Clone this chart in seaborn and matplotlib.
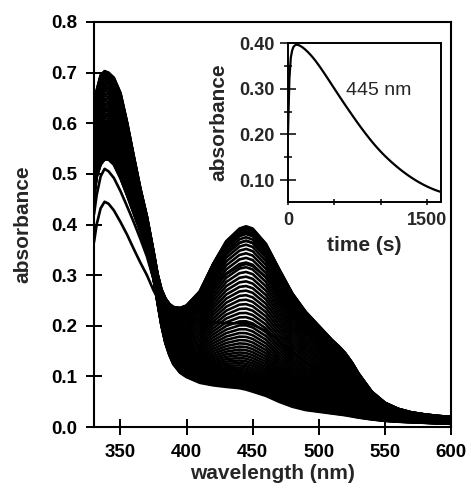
import numpy as np
import pandas as pd
import seaborn as sns
import matplotlib.pyplot as plt
from matplotlib.ticker import FormatStrFormatter, MultipleLocator

# wavelengths (nm) for the spectra
wavelength = [330, 332, 335, 338, 341, 345, 350, 355, 360, 365, 370, 375, 378, 381, 384, 387,
              390, 395, 400, 410, 420, 430, 440, 445, 450, 460, 470, 480, 490, 500, 510, 515,
              520, 525, 530, 540, 550, 560, 570, 580, 590, 600]

# first scan (t = 0 s)
first_scan = [0.365, 0.400, 0.432, 0.445, 0.441, 0.428, 0.405, 0.380, 0.352, 0.325, 0.300, 0.270,
              0.255, 0.244, 0.236, 0.230, 0.224, 0.218, 0.214, 0.210, 0.207, 0.205, 0.205, 0.205,
              0.202, 0.190, 0.170, 0.148, 0.128, 0.113, 0.098, 0.092, 0.086, 0.076, 0.064, 0.044,
              0.030, 0.023, 0.019, 0.016, 0.014, 0.013]
# second scan (t = 15 s)
second_scan = [0.420, 0.458, 0.495, 0.510, 0.505, 0.492, 0.466, 0.436, 0.405, 0.372, 0.337, 0.292,
               0.262, 0.250, 0.242, 0.236, 0.232, 0.230, 0.232, 0.245, 0.275, 0.302, 0.318, 0.322,
               0.318, 0.296, 0.260, 0.222, 0.190, 0.166, 0.143, 0.133, 0.122, 0.108, 0.092, 0.062,
               0.042, 0.032, 0.026, 0.022, 0.019, 0.017]
# spectrum at maximum of the 445 nm band
max_scan = [0.620, 0.665, 0.695, 0.703, 0.700, 0.690, 0.660, 0.602, 0.536, 0.472, 0.416, 0.347,
            0.303, 0.272, 0.254, 0.243, 0.237, 0.235, 0.240, 0.268, 0.322, 0.367, 0.392, 0.3965,
            0.392, 0.362, 0.312, 0.264, 0.228, 0.200, 0.172, 0.160, 0.146, 0.128, 0.106, 0.070,
            0.048, 0.036, 0.029, 0.025, 0.022, 0.020]
# end spectrum
final_scan = [0.450, 0.490, 0.515, 0.525, 0.525, 0.515, 0.488, 0.455, 0.420, 0.385, 0.345, 0.292,
              0.245, 0.199, 0.164, 0.140, 0.122, 0.105, 0.096, 0.084, 0.078, 0.074, 0.071, 0.068,
              0.064, 0.056, 0.045, 0.036, 0.030, 0.027, 0.024, 0.0225, 0.021, 0.019, 0.017, 0.014,
              0.0115, 0.010, 0.009, 0.008, 0.007, 0.006]

# kinetic trace at 445 nm (inset), one value per scan
time_s = [0, 15, 30, 45, 60, 75, 90, 120, 150, 180, 210, 240, 270, 300, 330, 360, 390, 420,
          450, 480, 510, 540, 570, 600, 630, 660, 690, 720, 750, 780, 810, 840, 870, 900, 930,
          960, 990, 1020, 1050, 1080, 1110, 1140, 1170, 1200, 1230, 1260, 1290, 1320, 1350,
          1380, 1410, 1440, 1470, 1500, 1530, 1560, 1590, 1620, 1650]
a445 = [0.205, 0.322, 0.368, 0.384, 0.392, 0.395, 0.3965, 0.3950, 0.3915, 0.3867, 0.3811,
        0.3748, 0.3678, 0.3601, 0.3518, 0.3431, 0.3341, 0.3249, 0.3156, 0.3063, 0.2970, 0.2877,
        0.2785, 0.2694, 0.2604, 0.2515, 0.2427, 0.2340, 0.2254, 0.2170, 0.2088, 0.2008, 0.1930,
        0.1854, 0.1781, 0.1711, 0.1644, 0.1580, 0.1519, 0.1461, 0.1405, 0.1351, 0.1299, 0.1249,
        0.1201, 0.1155, 0.1111, 0.1069, 0.1029, 0.0991, 0.0955, 0.0921, 0.0889, 0.0859, 0.0831,
        0.0805, 0.0781, 0.0759, 0.0739]

# spectra of every scan: each scan sits between the read-off spectra,
# placed by its 445 nm absorbance from the kinetic trace
first = np.array(first_scan)
second = np.array(second_scan)
peak = np.array(max_scan)
final = np.array(final_scan)
i445 = wavelength.index(445)

frames = []
for k, (t, a) in enumerate(zip(time_s, a445)):
    if k == 0:
        spec = first
    elif t < 90:
        w = (a - second[i445]) / (peak[i445] - second[i445])
        spec = second + w * (peak - second)
    else:
        w = (a - final[i445]) / (peak[i445] - final[i445])
        spec = final + w * (peak - final)
    frames.append(pd.DataFrame({"wavelength": wavelength, "absorbance": spec, "scan": k}))
spectra = pd.concat(frames, ignore_index=True)
kinetics = pd.DataFrame({"time": time_s, "absorbance": a445})

sns.set_style("ticks")
plt.rcParams['font.family'] = ['Liberation Sans', 'DejaVu Sans']
plt.rcParams['font.weight'] = 'bold'

fig = plt.figure(figsize=(4.71, 4.91), dpi=100)
ax = fig.add_axes([0.1996, 0.1303, 0.7580, 0.8249])

sns.lineplot(data=spectra, x="wavelength", y="absorbance", units="scan", estimator=None,
             color="black", linewidth=1.9, ax=ax, legend=False)

ax.set_xlim(330, 600)
ax.set_ylim(0, 0.8)
ax.xaxis.set_major_locator(MultipleLocator(50))
ax.yaxis.set_major_locator(MultipleLocator(0.1))
ax.yaxis.set_major_formatter(FormatStrFormatter('%.1f'))
ax.tick_params(direction='inout', length=11.5, width=1.4, labelsize=13.5, pad=6.5, colors='black')
for s in ax.spines.values():
    s.set_linewidth(1.5)
    s.set_color('black')
ax.set_xlabel('wavelength (nm)', fontsize=15, fontweight='bold', labelpad=2)
ax.set_ylabel('absorbance', fontsize=15, fontweight='bold', labelpad=13)

# inset: kinetic trace
axin = fig.add_axes([0.6115, 0.5886, 0.3248, 0.3238])
axin.set_facecolor('white')
sns.lineplot(data=kinetics, x="time", y="absorbance", color="black", linewidth=1.6, ax=axin)
axin.set_xlim(0, 1650)
axin.set_ylim(0.052, 0.40)
axin.set_xticks([0, 500, 1000, 1500])
axin.set_xticklabels(['0', '', '', '1500'])
axin.yaxis.set_major_locator(MultipleLocator(0.1))
axin.yaxis.set_minor_locator(MultipleLocator(0.05))
axin.yaxis.set_major_formatter(FormatStrFormatter('%.2f'))
axin.tick_params(axis='y', which='major', direction='inout', length=11, width=1.3, labelsize=13, pad=4)
axin.tick_params(axis='y', which='minor', direction='inout', length=5.5, width=1.3)
axin.tick_params(axis='x', direction='inout', length=5, width=1.3, labelsize=13, pad=5)
for s in axin.spines.values():
    s.set_linewidth(1.4)
    s.set_color('black')
axin.text(625, 0.286, '445 nm', fontsize=14, fontweight='normal')
axin.set_xlabel('time (s)', fontsize=15, fontweight='bold', labelpad=5)
axin.set_ylabel('absorbance', fontsize=15, fontweight='bold', labelpad=8)

plt.savefig('out.png', dpi=100)
